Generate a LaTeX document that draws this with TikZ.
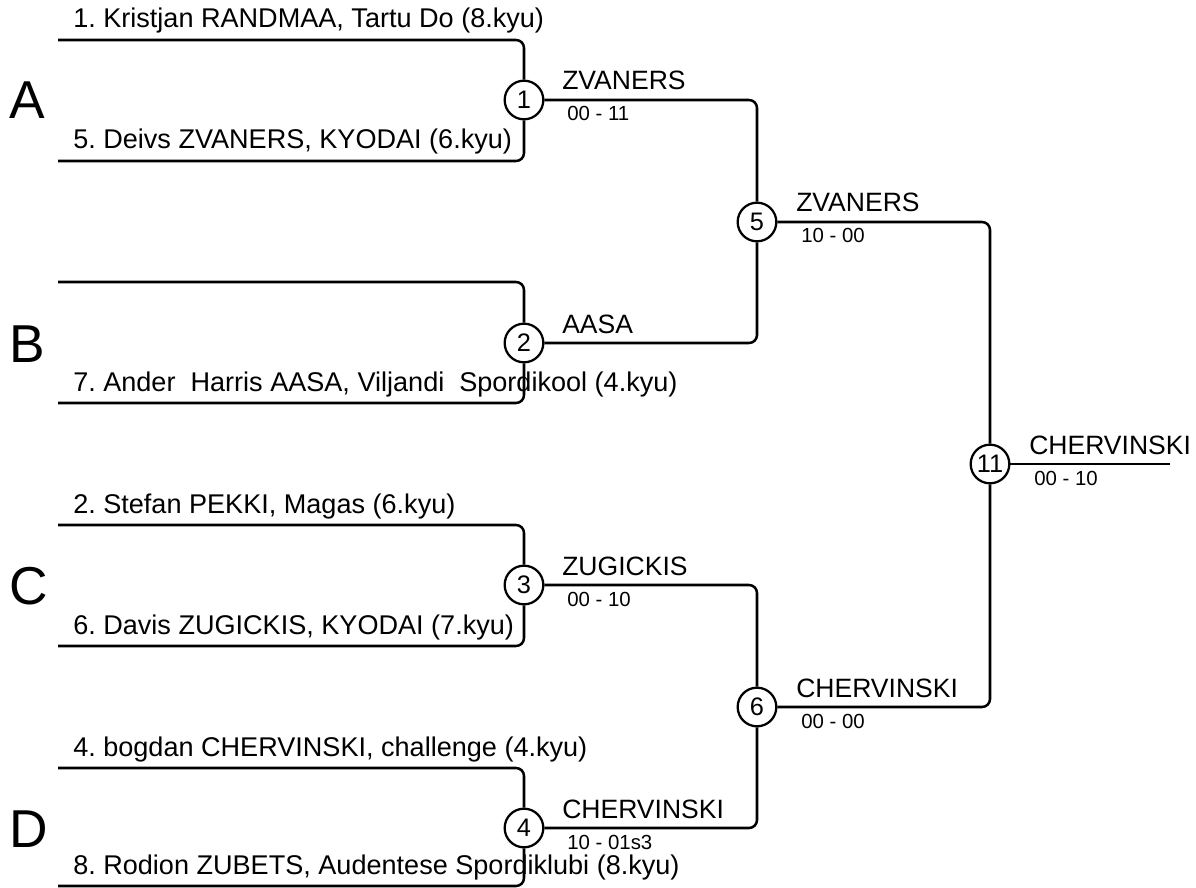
\documentclass[tikz,border=0pt]{standalone}
\usepackage{fontspec}
\setmainfont{Liberation Sans}
\usepackage{tikz}
\frenchspacing

\begin{document}
\begin{tikzpicture}[x=0.75pt, y=-0.75pt, line width=1.9pt, rounded corners=6pt,
  bout/.style={circle, draw, fill=white, minimum size=29pt, inner sep=0pt, line width=1.7pt, font=\fontsize{19}{20}\selectfont},
  player/.style={anchor=base west, inner sep=0pt, font=\fontsize{20.3}{22}\selectfont},
  winner/.style={anchor=base west, inner sep=0pt, font=\fontsize{19.9}{22}\selectfont},
  score/.style={anchor=base west, inner sep=0pt, font=\fontsize{15.3}{17}\selectfont},
  pool/.style={anchor=base west, inner sep=0pt, font=\fontsize{40}{42}\selectfont}]

\useasboundingbox (0,0) rectangle (1196,888);

% pools
\node[pool] (poolA) at (8,119) {A};
\node[pool] (poolB) at (8,362) {B};
\node[pool] (poolC) at (8,604) {C};
\node[pool] (poolD) at (8,847) {D};

% bouts
\node[bout] (m1) at (524,100) {1};
\node[bout] (m2) at (524,343) {2};
\node[bout] (m3) at (524,585) {3};
\node[bout] (m4) at (524,828) {4};
\node[bout] (m5) at (757,222) {5};
\node[bout] (m6) at (757,707) {6};
\node[bout] (m11) at (990,464) {11};

% start of each line
\coordinate (p1) at (58,40);
\coordinate (p5) at (58,161);
\coordinate (pB) at (58,282);
\coordinate (p7) at (58,403);
\coordinate (p2) at (58,525);
\coordinate (p6) at (58,646);
\coordinate (p4) at (58,768);
\coordinate (p8) at (58,886);
\coordinate (fin) at (1170,464);

\draw (p1) -| (m1);
\draw (p5) -| (m1);
\draw (pB) -| (m2);
\draw (p7) -| (m2);
\draw (p2) -| (m3);
\draw (p6) -| (m3);
\draw (p4) -| (m4);
\draw (p8) -| (m4);

\draw (m1) -| (m5);
\draw (m2) -| (m5);
\draw (m3) -| (m6);
\draw (m4) -| (m6);

\draw (m5) -| (m11);
\draw (m6) -| (m11);
\draw (m11) -- (fin);

% names
\node[player] (n1) at (72,28) {1. Kristjan RANDMAA, Tartu Do (8.kyu)};
\node[player] (n5) at (72,149) {5. Deivs ZVANERS, KYODAI (6.kyu)};
\node[player] (n7) at (72,391) {7. Ander\ \ Harris AASA, Viljandi\ \ Spordikool (4.kyu)};
\node[player] (n2) at (72,513) {2. Stefan PEKKI, Magas (6.kyu)};
\node[player] (n6) at (72,634) {6. Davis ZUGICKIS, KYODAI (7.kyu)};
\node[player] (n4) at (72,756) {4. bogdan CHERVINSKI, challenge (4.kyu)};
\node[player] (n8) at (72,874) {8. Rodion ZUBETS, Audentese Spordiklubi (8.kyu)};

% results
\node[winner] (w1) at (561,90) {ZVANERS};
\node[score] (s1) at (566,121) {00 - 11};
\node[winner] (w2) at (561,333) {AASA};
\node[winner] (w3) at (561,575) {ZUGICKIS};
\node[score] (s3) at (566,606) {00 - 10};
\node[winner] (w4) at (561,818) {CHERVINSKI};
\node[score] (s4) at (566,849) {10 - 01s3};
\node[winner] (w5) at (795,212) {ZVANERS};
\node[score] (s5) at (800,243) {10 - 00};
\node[winner] (w6) at (795,697) {CHERVINSKI};
\node[score] (s6) at (800,728) {00 - 00};
\node[winner] (w11) at (1028,454) {CHERVINSKI};
\node[score] (s11) at (1033,485) {00 - 10};

\end{tikzpicture}
\end{document}
